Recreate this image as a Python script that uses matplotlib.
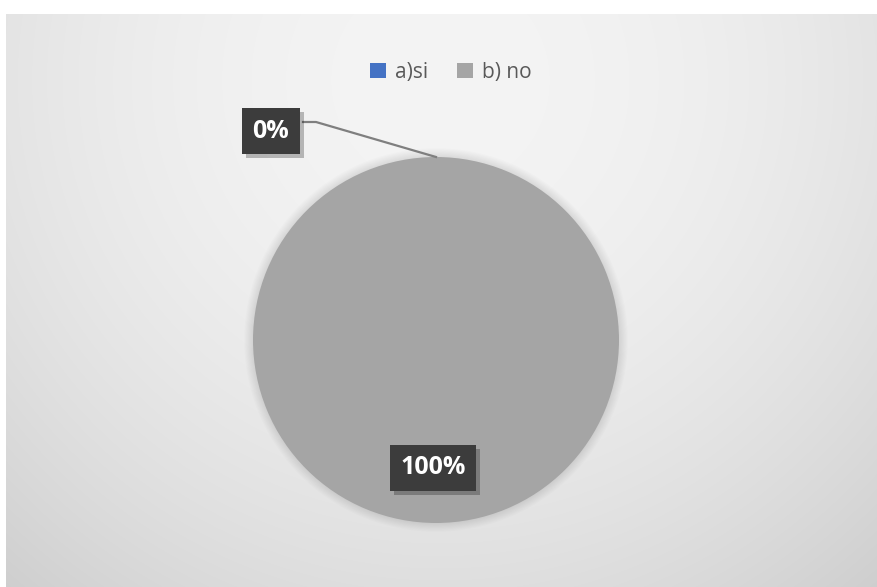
import numpy as np
import matplotlib.pyplot as plt
from matplotlib.patches import Circle
import matplotlib.patheffects as pe

# survey answers
categories = ['a)si', 'b) no']
values = [0, 100]
colors = ['#4472c4', '#a5a5a5']

W, H = 878, 587
fig = plt.figure(figsize=(W / 100, H / 100), dpi=100)
fig.patch.set_facecolor('white')

# radial gradient background of the chart area
bg = fig.add_axes([6 / W, 0, 1 - 6 / W, (H - 14) / H])
bg.set_axis_off()
xs = np.arange(6, W)
ys = np.arange(14, H)
X, Y = np.meshgrid(xs, ys)
d2 = (X - 440) ** 2 + (Y - 80) ** 2
shade = np.clip(244 - 8.4e-5 * d2, 200, 255) / 255.0
bg.imshow(np.dstack([shade, shade, shade]), aspect='auto', interpolation='bilinear')

# pie
cx, cy, r = 436, 340, 183
ax = fig.add_axes([(cx - r) / W, (H - cy - r) / H, 2 * r / W, 2 * r / H])
ax.set_axis_off()

# soft glow around the pie
for i in range(8):
    ax.add_patch(Circle((0, 0), 1 + 0.006 * (i + 1), color='black', alpha=0.012,
                        lw=0, zorder=0, clip_on=False))

wedges, _ = ax.pie(values, colors=colors, startangle=90, counterclock=False,
                   radius=1, wedgeprops=dict(linewidth=0))
for w in wedges:
    w.set_zorder(1)
ax.set_xlim(-1, 1)
ax.set_ylim(-1, 1)

total = sum(values)
pcts = ['{0:.0f}%'.format(v * 100.0 / total) for v in values]

def px(x, y):
    return ((x - cx) / r, (cy - y) / r)

# leader line for the zero slice
lx, ly = zip(px(303, 122), px(316, 122), px(436, 157))
ax.plot(lx, ly, color='#7f7f7f', lw=1.6, zorder=2, clip_on=False)

label_pos = [px(271, 131), px(433, 468)]
for (x, y), txt in zip(label_pos, pcts):
    t = ax.text(x, y, txt, ha='center', va='center', color='white', fontsize=18,
                fontweight='bold', family='Open Sans', zorder=5,
                bbox=dict(boxstyle='square,pad=0.42', fc='#3c3c3c', ec='none'))
    t.get_bbox_patch().set_path_effects([
        pe.SimplePatchShadow(offset=(3, -3), shadow_rgbFace='black', alpha=0.25),
        pe.Normal()])

# legend
leg = fig.legend(handles=wedges, labels=categories, loc='center', bbox_to_anchor=(451 / W, 1 - 72 / H),
                 ncol=2, frameon=False, handlelength=0.75, handleheight=0.75, handletextpad=0.45,
                 columnspacing=1.4, prop={'family': 'Open Sans', 'size': 15})
for t in leg.get_texts():
    t.set_color('#595959')

fig.savefig('out.png', dpi=100)
